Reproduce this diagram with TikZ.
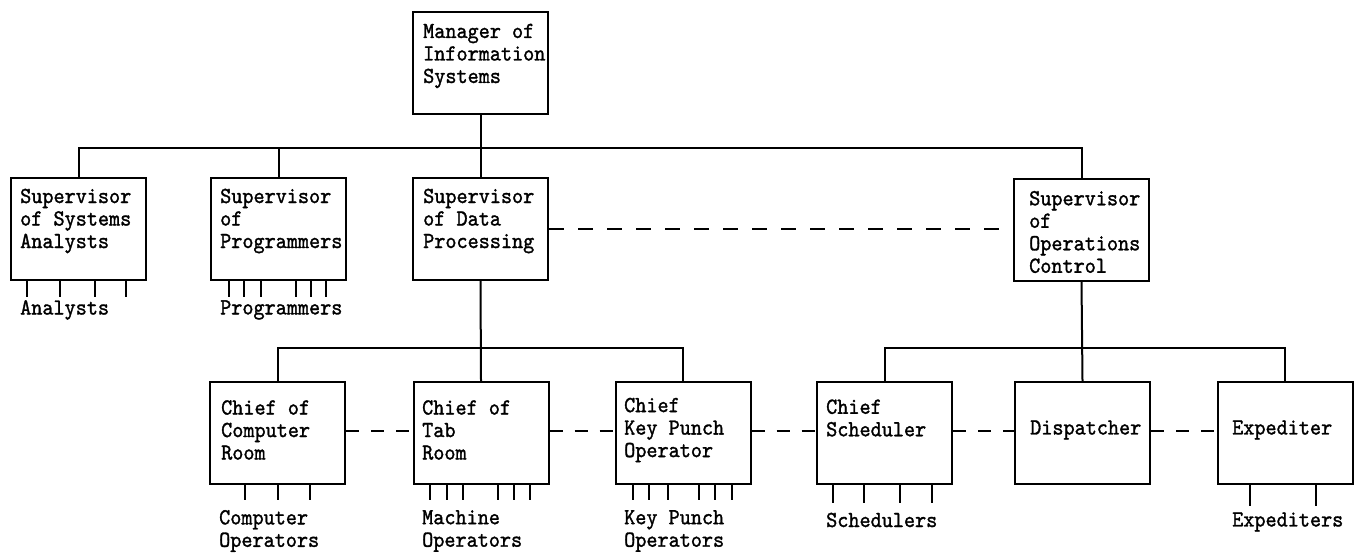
\documentclass[tikz,border=0pt]{standalone}
\usepackage{fontspec}
\newfontfamily\tw{lmmono10-regular.otf}[FakeBold=1.3,FakeStretch=0.92]
\begin{document}
\begin{tikzpicture}[x=1pt,y=-1pt,
  orgbox/.style={draw=black, line width=2pt, minimum width=135pt, minimum height=102pt, inner sep=0pt, fill=white},
  lbl/.style={anchor=west, inner sep=0pt, align=left, font={\tw\fontsize{23}{22.5}\selectfont}},
  link/.style={line width=2pt},
  dlink/.style={line width=2pt, dash pattern=on 15pt off 14pt},
  sdlink/.style={line width=2pt, dash pattern=on 13pt off 12pt},
  tick/.style={line width=2pt}]
\useasboundingbox (0,0) rectangle (1356,552);

% boxes
\node[orgbox] (M)  at (480.5,62.5) {};
\node[orgbox] (SA) at (78.5,229) {};
\node[orgbox] (SP) at (278.5,229) {};
\node[orgbox] (SD) at (480.5,229) {};
\node[orgbox] (SO) at (1081.5,230) {};
\node[orgbox] (CC) at (277.5,433) {};
\node[orgbox] (CT) at (481,433) {};
\node[orgbox] (CK) at (683,433) {};
\node[orgbox] (CS) at (884.5,433) {};
\node[orgbox] (DI) at (1082.5,433) {};
\node[orgbox] (EX) at (1285,433) {};

% box texts
\node[lbl] (tM)  at (423,56)  {Manager of\\Information\\Systems};
\node[lbl] (tSA) at (20,221)  {Supervisor\\of Systems\\Analysts};
\node[lbl] (tSP) at (220,221) {Supervisor\\of\\Programmers};
\node[lbl] (tSD) at (423,221) {Supervisor\\of Data\\Processing};
\node[lbl] (tSO) at (1029,232) {Supervisor\\of\\Operations\\Control};
\node[lbl] (tCC) at (221,430) {Chief of\\Computer\\Room};
\node[lbl] (tCT) at (422,430) {Chief of\\Tab\\Room};
\node[lbl] (tCK) at (624,430) {Chief\\Key Punch\\Operator};
\node[lbl] (tCS) at (826,418) {Chief\\Scheduler};
\node[lbl] (tDI) at (1030,430) {Dispatcher};
\node[lbl] (tEX) at (1232,430) {Expediter};

% subordinate labels
\node[lbl] (lSA) at (20,310)  {Analysts};
\node[lbl] (lSP) at (220,310) {Programmers};
\node[lbl] (lCC) at (219,531) {Computer\\Operators};
\node[lbl] (lCT) at (422,531) {Machine\\Operators};
\node[lbl] (lCK) at (624,531) {Key Punch\\Operators};
\node[lbl] (lCS) at (826,520) {Schedulers};
\node[lbl] (lEX) at (1232,522) {Expediters};

% solid connectors
\coordinate (bus1) at (480.5,148);
\coordinate (bus2) at (480.5,348);
\coordinate (bus3) at (1081.5,348);
\draw[link] (M.south) -- (SD.north);
\draw[link] (SA.north) |- (bus1) -| (SO.north);
\draw[link] (SP.north) -- (SP.north |- bus1);
\draw[link] (SD.south) -- (CT.north);
\draw[link] (CC.north) |- (bus2) -| (CK.north);
\draw[link] (SO.south) -- (DI.north);
\draw[link] (CS.north) |- (bus3) -| (EX.north);

% dashed connectors
\draw[dlink] (SD.east) -- (SD.east -| SO.west);
\draw[sdlink] ([yshift=2pt]CC.east) -- ([yshift=2pt]CT.west);
\draw[sdlink] ([yshift=2pt]CT.east) -- ([yshift=2pt]CK.west);
\draw[sdlink] ([yshift=2pt]CK.east) -- ([yshift=2pt]CS.west);
\draw[sdlink] ([yshift=2pt]CS.east) -- ([yshift=2pt]DI.west);
\draw[sdlink] ([yshift=2pt]DI.east) -- ([yshift=2pt]EX.west);

% ticks
\foreach \x in {27,60,95,126} \draw[tick] (\x,281) -- (\x,297);
\foreach \x in {229,244,261,296,311,326} \draw[tick] (\x,280) -- (\x,297);
\foreach \x in {245,278,310} \draw[tick] (\x,484) -- (\x,500);
\foreach \x in {430,447,463,498,514,530} \draw[tick] (\x,484) -- (\x,500);
\foreach \x in {633,649,668,699,715,732} \draw[tick] (\x,484) -- (\x,500);
\foreach \x in {833,864,900,932} \draw[tick] (\x,484) -- (\x,503);
\foreach \x in {1250,1316} \draw[tick] (\x,484) -- (\x,506);
\end{tikzpicture}
\end{document}
